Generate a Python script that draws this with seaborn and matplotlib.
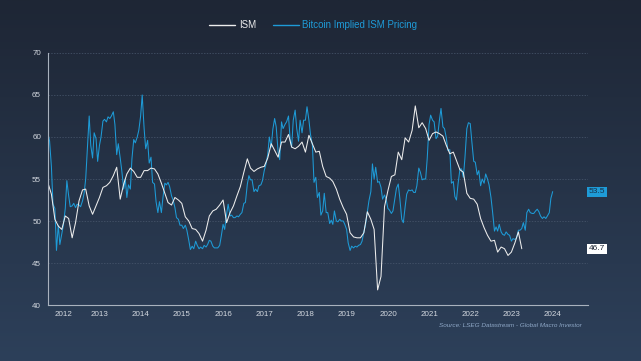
import numpy as np
import pandas as pd
import matplotlib
matplotlib.use("Agg")
import matplotlib.pyplot as plt
import matplotlib.dates as mdates
import matplotlib.transforms as mtransforms
from matplotlib.colors import LinearSegmentedColormap
from matplotlib.lines import Line2D
import seaborn as sns

# ISM manufacturing, monthly values from Apr 2012 to Oct 2023
ism_start = "2012-04-01"
ism_2012 = [54.5, 53.2, 50.2, 49.4, 49.0, 50.6, 50.3, 48.0, 49.8]
ism_2013 = [52.4, 53.7, 53.8, 51.8, 50.8, 51.8, 52.8, 54.0, 54.2, 54.6, 55.4, 56.4]
ism_2014 = [52.6, 54.4, 55.6, 56.3, 55.9, 55.2, 55.2, 56.0, 56.0, 56.3, 56.2, 55.6]
ism_2015 = [54.5, 53.3, 52.2, 51.9, 52.8, 52.5, 52.1, 50.5, 50.0, 49.1, 49.0, 48.5]
ism_2016 = [47.6, 48.9, 50.6, 51.2, 51.4, 51.9, 52.5, 49.8, 51.0, 51.8, 53.0, 54.1]
ism_2017 = [55.8, 57.4, 56.3, 55.9, 56.2, 56.4, 56.5, 57.5, 59.2, 58.4, 57.6, 59.4]
ism_2018 = [59.4, 60.3, 58.8, 58.6, 58.9, 59.4, 58.2, 60.2, 59.2, 58.2, 58.3, 56.5]
ism_2019 = [55.3, 55.1, 54.7, 53.8, 52.6, 51.6, 50.8, 48.6, 48.1, 48.0, 48.0, 48.6]
ism_2020 = [51.1, 50.2, 49.0, 41.8, 43.4, 51.7, 53.6, 55.3, 55.5, 58.2, 57.3, 59.9]
ism_2021 = [59.4, 60.8, 63.7, 61.1, 61.7, 61.0, 59.6, 60.4, 60.6, 60.4, 60.1, 59.0]
ism_2022 = [58.0, 58.2, 57.2, 56.1, 55.8, 53.3, 52.7, 52.6, 52.0, 50.3, 49.2, 48.3]
ism_2023 = [47.6, 47.7, 46.3, 46.9, 46.7, 45.9, 46.3, 47.4, 48.7, 46.7]

# Bitcoin implied ISM pricing, twice a month from Apr 2012 to Jul 2024
btc_start = "2012-04-01"
btc_2012 = [60.4, 59.5, 56.5, 52.0, 51.5, 46.5, 49.5, 47.2, 48.5, 49.5, 51.5, 54.8,
            53.0, 51.7, 51.8, 52.1, 51.6, 52.0]
btc_2013 = [51.9, 51.7, 52.4, 53.3, 55.0, 58.3, 62.5, 59.0, 57.5, 60.5, 59.8, 57.1,
            59.0, 60.0, 61.9, 62.1, 61.8, 62.4, 62.2, 62.5, 63.0, 61.5, 57.9, 59.2]
btc_2014 = [57.5, 56.0, 53.8, 55.0, 52.8, 54.3, 53.8, 57.4, 59.7, 59.3, 60.0, 60.8,
            62.5, 65.0, 61.0, 58.6, 59.6, 56.9, 57.6, 54.6, 54.4, 52.3, 51.0, 52.3]
btc_2015 = [51.0, 52.8, 54.5, 54.3, 54.6, 54.1, 53.0, 52.5, 51.6, 50.4, 50.2, 49.5,
            49.5, 49.1, 49.5, 48.9, 47.7, 46.6, 47.0, 46.7, 47.6, 47.1, 46.7, 46.9]
btc_2016 = [46.7, 47.1, 46.9, 47.2, 47.7, 47.6, 47.0, 46.8, 46.8, 46.8, 47.1, 48.2,
            49.6, 49.0, 50.8, 52.0, 50.6, 50.7, 50.4, 50.4, 50.6, 50.5, 50.8, 51.0]
btc_2017 = [52.1, 52.2, 54.4, 55.4, 54.9, 54.9, 53.5, 53.8, 53.5, 54.2, 54.3, 54.8,
            56.0, 56.7, 57.9, 60.0, 58.8, 60.9, 62.2, 61.2, 58.2, 57.3, 61.8, 61.0]
btc_2018 = [61.5, 61.8, 62.5, 59.8, 58.8, 62.0, 63.2, 61.0, 59.5, 62.0, 60.5, 62.0,
            62.0, 63.6, 62.0, 60.3, 59.0, 54.6, 55.2, 52.8, 53.4, 50.7, 51.2, 53.3]
btc_2019 = [51.0, 51.0, 49.7, 50.1, 49.6, 51.2, 50.0, 49.9, 50.2, 50.0, 50.0, 49.6,
            49.0, 47.4, 46.5, 47.0, 46.8, 47.0, 46.9, 47.1, 47.2, 47.6, 48.7, 49.5]
btc_2020 = [51.1, 52.4, 53.5, 56.8, 55.0, 56.4, 54.6, 54.7, 54.0, 52.6, 53.1, 52.6,
            51.5, 51.3, 50.9, 51.2, 52.7, 53.9, 54.4, 52.7, 50.2, 49.8, 51.7, 53.2]
btc_2021 = [53.7, 53.6, 53.7, 53.4, 53.4, 54.2, 56.3, 55.8, 54.9, 55.0, 55.0, 57.5,
            61.5, 62.6, 62.0, 61.8, 59.8, 60.1, 62.0, 63.4, 61.2, 61.0, 59.9, 58.4]
btc_2022 = [58.5, 54.5, 54.7, 52.9, 52.5, 54.4, 56.2, 56.2, 55.2, 57.5, 61.0, 61.7,
            61.6, 59.5, 57.1, 57.0, 55.5, 56.0, 54.2, 55.0, 54.5, 55.6, 55.0, 54.3]
btc_2023 = [52.8, 51.1, 48.8, 49.3, 48.8, 49.6, 48.7, 48.4, 48.3, 48.7, 48.4, 48.3,
            47.6, 47.9, 47.8, 48.0, 48.9, 48.9, 49.1, 49.8, 48.9, 51.0, 51.4, 51.0]
btc_2024 = [50.9, 50.9, 51.2, 51.4, 51.1, 50.6, 50.3, 50.5, 50.3, 50.6, 51.0, 52.7, 53.5]

year_labels = [str(y) for y in range(2012, 2025)]
source_note = "Source: LSEG Datastream - Global Macro Investor"

ISM_COLOR = "#ededed"
BTC_COLOR = "#1e9bd7"
AXIS_COLOR = "#a9b2be"
TEXT_COLOR = "#d3d8df"

ism_values = (ism_2012 + ism_2013 + ism_2014 + ism_2015 + ism_2016 + ism_2017 +
              ism_2018 + ism_2019 + ism_2020 + ism_2021 + ism_2022 + ism_2023)
btc_values = (btc_2012 + btc_2013 + btc_2014 + btc_2015 + btc_2016 + btc_2017 +
              btc_2018 + btc_2019 + btc_2020 + btc_2021 + btc_2022 + btc_2023 + btc_2024)

ism_df = pd.DataFrame({
    "date": pd.date_range(ism_start, periods=len(ism_values), freq="MS"),
    "value": ism_values,
    "series": "ISM"})
btc_df = pd.DataFrame({
    "date": pd.date_range(btc_start, periods=len(btc_values), freq="SMS"),
    "value": btc_values,
    "series": "Bitcoin Implied ISM Pricing"})
df = pd.concat([btc_df, ism_df], ignore_index=True)

sns.set_style("dark")
plt.rcParams["font.family"] = ["Liberation Sans", "DejaVu Sans"]

fig = plt.figure(figsize=(6.41, 3.61), dpi=100)

# gradient background
bg = fig.add_axes([0, 0, 1, 1], zorder=-10)
cmap = LinearSegmentedColormap.from_list("bg", ["#1e2635", "#2d405a"])
bg.imshow(np.linspace(0, 1, 256).reshape(-1, 1), aspect="auto", cmap=cmap,
          extent=[0, 1, 0, 1], origin="upper")
bg.axis("off")

ax = fig.add_axes([0.0749, 0.1551, 0.8424, 0.6981])
ax.set_facecolor("none")

sns.lineplot(data=df, x="date", y="value", hue="series",
             hue_order=["Bitcoin Implied ISM Pricing", "ISM"],
             palette={"ISM": ISM_COLOR, "Bitcoin Implied ISM Pricing": BTC_COLOR},
             estimator=None, linewidth=0.75, legend=False, ax=ax)

x_start = pd.Timestamp("2012-04-01")
x_end = pd.Timestamp("2025-05-10")
ax.set_xlim(mdates.date2num(x_start), mdates.date2num(x_end))
ax.set_ylim(40, 70)
ax.set_xlabel("")
ax.set_ylabel("")

# y axis
ax.set_yticks(range(40, 71, 5))
ax.yaxis.grid(True, linestyle=(0, (2, 2)), color="#4a596e", linewidth=0.5)
ax.xaxis.grid(False)

# x axis: tick marks at year boundaries, labels in the middle of each year
boundaries = [mdates.date2num(pd.Timestamp(f"{y}-01-01")) for y in range(2013, 2026)]
ax.set_xticks(boundaries)
ax.set_xticklabels([""] * len(boundaries))
label_pos = [(mdates.date2num(x_start) + boundaries[0]) / 2]
label_pos += [(boundaries[i] + boundaries[i + 1]) / 2 for i in range(len(year_labels) - 1)]
ax.set_xticks(label_pos, minor=True)
ax.set_xticklabels(year_labels, minor=True)

ax.tick_params(axis="both", which="major", colors=AXIS_COLOR, labelcolor=TEXT_COLOR,
               labelsize=5.8, length=3, width=0.7, direction="out", pad=2)
ax.tick_params(axis="x", which="minor", length=0, labelcolor=TEXT_COLOR,
               labelsize=5.8, pad=4)

sns.despine(ax=ax)
for side in ["left", "bottom"]:
    ax.spines[side].set_visible(True)
    ax.spines[side].set_color(AXIS_COLOR)
    ax.spines[side].set_linewidth(0.8)

# last value tags on the right
trans = mtransforms.blended_transform_factory(ax.transAxes, ax.transData)
ax.text(1.0167, btc_values[-1], f"{btc_values[-1]:.1f}", transform=trans,
        ha="center", va="center", fontsize=6, color="#17324a",
        bbox=dict(boxstyle="square,pad=0.18", fc=BTC_COLOR, ec="none"))
ax.text(1.0167, ism_values[-1], f"{ism_values[-1]:.1f}", transform=trans,
        ha="center", va="center", fontsize=6, color="#1e2635",
        bbox=dict(boxstyle="square,pad=0.18", fc="white", ec="none"))

# legend
handles = [Line2D([0], [0], color=ISM_COLOR, lw=1.0),
           Line2D([0], [0], color=BTC_COLOR, lw=1.0)]
fig.legend(handles, ["ISM", "Bitcoin Implied ISM Pricing"], loc="center",
           bbox_to_anchor=(0.489, 0.931), ncol=2, frameon=False, fontsize=7,
           handlelength=2.6, handletextpad=0.4, columnspacing=1.8,
           labelcolor="linecolor")

fig.text(0.908, 0.0997, source_note, ha="right", va="center", fontsize=4.6,
         style="italic", color="#8ea7c6")

fig.savefig("out.png", dpi=100)
